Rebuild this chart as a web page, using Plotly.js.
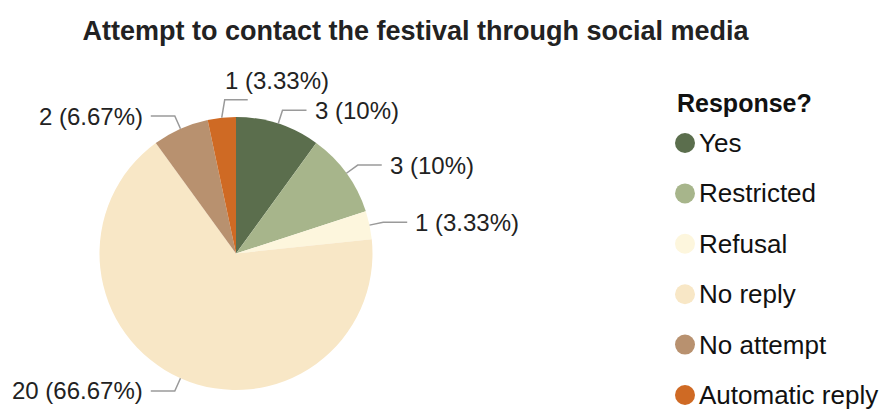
<!DOCTYPE html>
<html>
<head>
<meta charset="utf-8">
<script src="https://cdn.plot.ly/plotly-3.0.1.min.js"></script>
<style>html,body{margin:0;padding:0;background:#fff;}#chart{width:888px;height:410px;}</style>
</head>
<body>
<div id="chart"></div>
<script>
const chartTitle = 'Attempt to contact the festival through social media';
const legendTitle = 'Response?';
const categories = ['Yes', 'Restricted', 'Refusal', 'No reply', 'No attempt', 'Automatic reply'];
const counts = [3, 3, 1, 20, 2, 1];
const colors = ['#5b6e4d', '#a7b58b', '#fdf6dd', '#f8e7c6', '#b8916f', '#cf6a24'];

const W = 888, H = 410;
const FONT = 'Liberation Sans, Arial, sans-serif';
// pie geometry (pixels)
const cx = 236, cy = 253.5, R = 136.5;
const px = x => x / W;
const py = y => 1 - y / H;

const total = counts.reduce((a, b) => a + b, 0);
const shapes = [];
const annotations = [];

// Slice labels with elbow leader lines, computed from data angles
let acc = 0;
counts.forEach((v, i) => {
  const mid = (acc + v / 2) / total * 2 * Math.PI; // clockwise from top
  acc += v;
  const pct = parseFloat((v / total * 100).toFixed(2));
  const txt = v + ' (' + pct + '%)';
  const dx = Math.sin(mid), dy = -Math.cos(mid);
  const ex = cx + R * dx, ey = cy + R * dy;
  const deg = mid * 180 / Math.PI;
  let path, ann;
  if (deg > 350 || deg < 10) {
    const bx = ex + 3, by = ey - 18;
    const hx = bx + 23;
    path = `M${px(ex)},${py(ey)} L${px(bx)},${py(by)} L${px(hx)},${py(by)}`;
    ann = {x: px(bx - 2), y: py(by - 4), xanchor: 'left', yanchor: 'bottom'};
  } else {
    const bx = ex + 14 * dx, by = ey + 14 * dy;
    const right = deg < 180;
    const hx = bx + (right ? 24 : -24);
    path = `M${px(ex)},${py(ey)} L${px(bx)},${py(by)} L${px(hx)},${py(by)}`;
    ann = {x: px(hx + (right ? 6 : -6)), y: py(by), xanchor: right ? 'left' : 'right', yanchor: 'middle'};
  }
  shapes.push({type: 'path', xref: 'paper', yref: 'paper', path: path,
    line: {color: '#9a9a9a', width: 1.5}});
  annotations.push(Object.assign({xref: 'paper', yref: 'paper', text: txt, showarrow: false,
    font: {family: FONT, size: 24, color: '#222222'}}, ann));
});

// Legend (circle markers) built from the category arrays
const legX = 675, legTitleY = 103, legFirstY = 143, legStep = 50.4;
annotations.push({xref: 'paper', yref: 'paper', x: px(legX), y: py(legTitleY),
  xanchor: 'left', yanchor: 'middle', showarrow: false, text: '<b>' + legendTitle + '</b>',
  font: {family: FONT, size: 25, color: '#111111'}});
categories.forEach((c, i) => {
  const yy = legFirstY + i * legStep;
  shapes.push({type: 'circle', xref: 'paper', yref: 'paper',
    x0: px(legX), x1: px(legX + 20), y0: py(yy - 10), y1: py(yy + 10),
    fillcolor: colors[i], line: {width: 0}});
  annotations.push({xref: 'paper', yref: 'paper', x: px(legX + 22), y: py(yy),
    xanchor: 'left', yanchor: 'middle', showarrow: false, text: c,
    font: {family: FONT, size: 26, color: '#111111'}});
});

const data = [{
  type: 'pie',
  labels: categories,
  values: counts,
  marker: {colors: colors, line: {width: 0}},
  sort: false,
  direction: 'clockwise',
  rotation: 0,
  textinfo: 'none',
  hoverinfo: 'label+value+percent',
  showlegend: false,
  domain: {x: [(cx - R) / W, (cx + R) / W], y: [1 - (cy + R) / H, 1 - (cy - R) / H]}
}];

const layout = {
  width: W, height: H,
  margin: {l: 0, r: 0, t: 0, b: 0},
  paper_bgcolor: '#ffffff',
  showlegend: false,
  title: {text: '<b>' + chartTitle + '</b>', x: 415.5 / W, xanchor: 'center', xref: 'paper',
    y: 1 - 31 / H, yanchor: 'middle', yref: 'paper',
    font: {family: FONT, size: 27, color: '#222222'}},
  shapes: shapes,
  annotations: annotations
};

Plotly.newPlot('chart', data, layout, {displayModeBar: false, staticPlot: true});
</script>
</body>
</html>
